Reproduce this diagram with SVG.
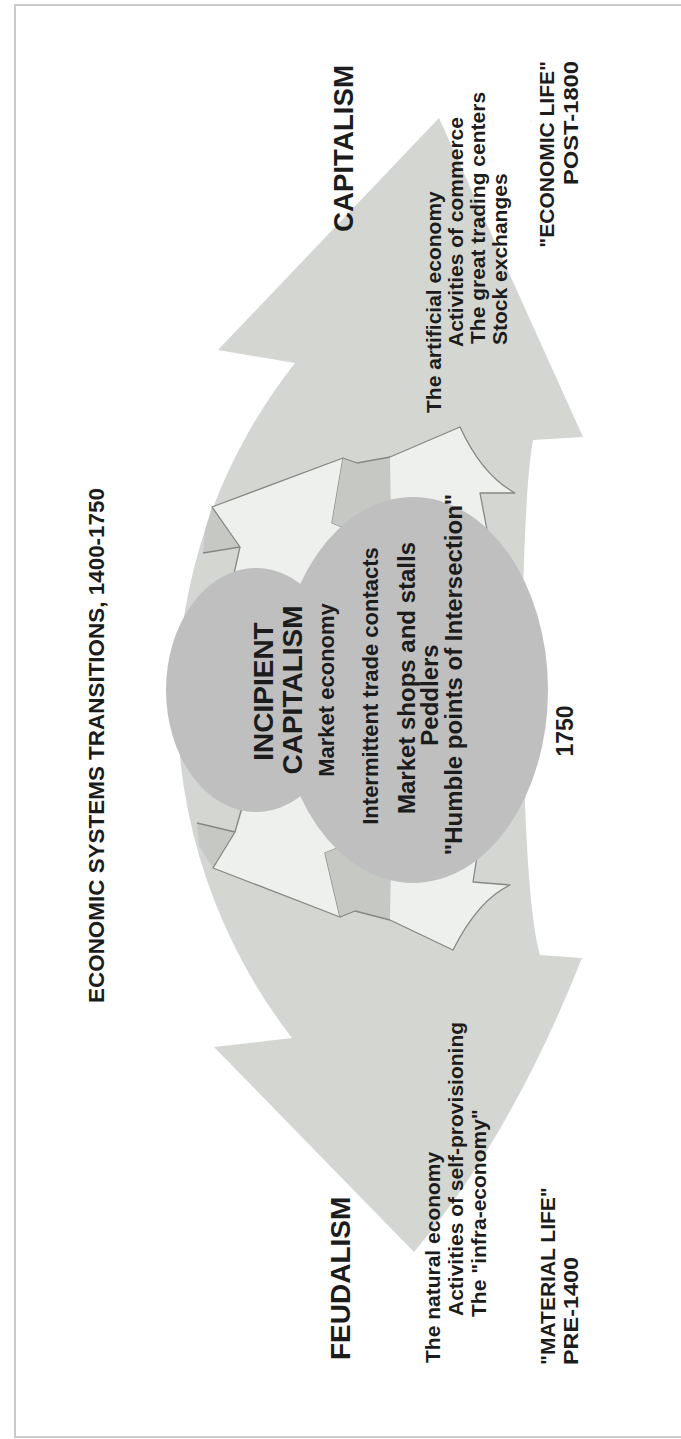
<svg xmlns="http://www.w3.org/2000/svg" width="681" height="1439" viewBox="0 0 681 1439">
<style>
text{font-family:"Liberation Sans",Arial,sans-serif;fill:#1c1c1c;font-weight:bold}
.face{fill:#eef0ed}
.fold{fill:#c6c8c4}
.edge{fill:none;stroke:#868884;stroke-width:1.3;stroke-linejoin:round}
.ell{fill:#bfbfbf}
</style>
<rect x="0" y="0" width="681" height="1439" fill="#ffffff"/>
<rect x="15" y="5" width="680" height="1432" fill="none" stroke="#cacaca" stroke-width="2"/>
<g id="big-arrow">
<path fill="#d3d6d1" d="M439,118 L583,437 L533,440 C518,520 518,880 540,955 L582,958 Q512,1135 414,1252 L214,1047 L292,1038 A548,548 0 0 1 295,363 L218,350 Z"/>
</g>
<g id="connectors">
<g id="arrow-a">
<path class="fold" d="M212,507 L240,547 L203,553 L205,530 Z"/>
<path class="face" d="M212,507 L343,458 L332,523 L352,531 L340,600 L250,600 L233,578 L240,547 Z"/>
<path class="edge" d="M203,553 L240,547 L212,507 L343,458 L332,523 L352,531"/>
<path class="edge" d="M240,547 L233,578"/>
</g>
<g id="arrow-b">
<path class="fold" d="M343,458 L357,463 L390,457 L391,510 L352,531 L332,523 Z"/>
<path class="face" d="M390,457 L460,427 Q482,475 515,493 L480,493 L487,530 L494,575 L420,560 L391,510 Z"/>
<path class="edge" d="M343,458 L357,463 L390,457 L460,427 Q482,475 515,493 L480,493 L487,530 L494,575"/>
</g>
<g id="arrow-c">
<path class="fold" d="M197,823 L235,832 L213,868 L199,846 Z"/>
<path class="face" d="M213,868 L340,917 L325,853 L345,845 L340,780 L250,790 L235,832 Z"/>
<path class="edge" d="M197,823 L235,832 L213,868 L340,917 L325,853 L345,845"/>
<path class="edge" d="M235,832 L244,800"/>
</g>
<g id="arrow-d">
<path class="fold" d="M340,917 L355,911 L390,920 L391,870 L345,845 L325,853 Z"/>
<path class="face" d="M390,920 L453,950 Q478,900 510,885 L473,882 L480,837 L488,800 L420,820 L391,870 Z"/>
<path class="edge" d="M340,917 L355,911 L390,920 L453,950 Q478,900 510,885 L473,882 L480,837 L488,800"/>
</g>
</g>
<g id="incipient-ellipse">
<ellipse class="ell" cx="256" cy="690" rx="90" ry="122"/>
</g>
<g id="intersection-ellipse">
<ellipse class="ell" cx="413" cy="690" rx="135" ry="193"/>
</g>
<g id="title">
<text transform="translate(104,745.5) rotate(-90)" text-anchor="middle" font-size="22" textLength="515" lengthAdjust="spacingAndGlyphs">ECONOMIC SYSTEMS TRANSITIONS, 1400-1750</text>
</g>
<g id="capitalism">
<text transform="translate(353,232) rotate(-90)" font-size="28" textLength="167" lengthAdjust="spacingAndGlyphs">CAPITALISM</text>
<text transform="translate(441,413) rotate(-90)" font-size="21">The artificial economy</text>
<text transform="translate(463,347) rotate(-90)" font-size="21">Activities of commerce</text>
<text transform="translate(485,344) rotate(-90)" font-size="21">The great trading centers</text>
<text transform="translate(507,345) rotate(-90)" font-size="21">Stock exchanges</text>
<text transform="translate(554,61) rotate(-90)" text-anchor="end" font-size="21">"ECONOMIC LIFE"</text>
<text transform="translate(578,61) rotate(-90)" text-anchor="end" font-size="21" textLength="124" lengthAdjust="spacingAndGlyphs">POST-1800</text>
</g>
<g id="incipient">
<text transform="translate(273,691.5) rotate(-90)" text-anchor="middle" font-size="28">INCIPIENT</text>
<text transform="translate(302,690) rotate(-90)" text-anchor="middle" font-size="28">CAPITALISM</text>
<text transform="translate(334,690) rotate(-90)" text-anchor="middle" font-size="22">Market economy</text>
<text transform="translate(378,686) rotate(-90)" text-anchor="middle" font-size="22">Intermittent trade contacts</text>
<text transform="translate(415,678) rotate(-90)" text-anchor="middle" font-size="24">Market shops and stalls</text>
<text transform="translate(438,695) rotate(-90)" text-anchor="middle" font-size="24">Peddlers</text>
<text transform="translate(462,674.5) rotate(-90)" text-anchor="middle" font-size="24">"Humble points of Intersection"</text>
<text transform="translate(573,731) rotate(-90)" text-anchor="middle" font-size="23">1750</text>
</g>
<g id="feudalism">
<text transform="translate(350,1360) rotate(-90)" font-size="28">FEUDALISM</text>
<text transform="translate(440,1363) rotate(-90)" font-size="21">The natural economy</text>
<text transform="translate(463,1316) rotate(-90)" font-size="21">Activities of self-provisioning</text>
<text transform="translate(486,1317) rotate(-90)" font-size="21">The "infra-economy"</text>
<text transform="translate(555,1365) rotate(-90)" font-size="21">"MATERIAL LIFE"</text>
<text transform="translate(578,1365) rotate(-90)" font-size="21" textLength="108" lengthAdjust="spacingAndGlyphs">PRE-1400</text>
</g>
</svg>
